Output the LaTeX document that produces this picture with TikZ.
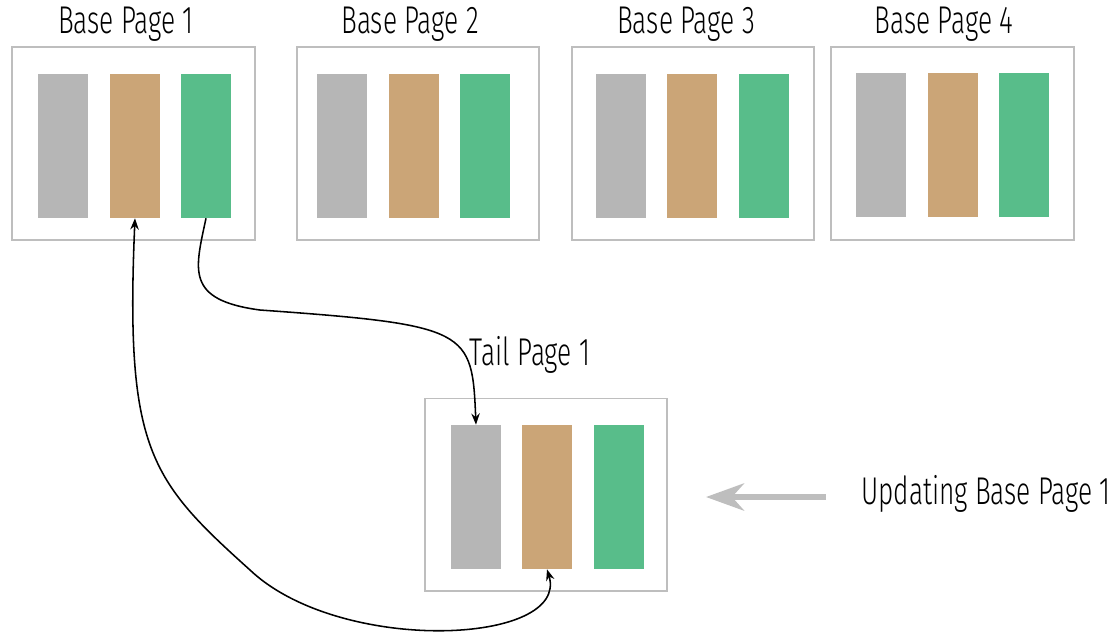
\documentclass[tikz,border=0pt]{standalone}
\usepackage{fontspec}
\setmainfont[FakeStretch=0.68]{Fira Sans Light}
\usetikzlibrary{arrows.meta}
\definecolor{pagegray}{RGB}{190,190,190}
\definecolor{colgray}{RGB}{182,182,182}
\definecolor{coltan}{RGB}{203,165,119}
\definecolor{colgreen}{RGB}{88,189,138}
\definecolor{arrowgray}{RGB}{190,190,190}
\begin{document}
\begin{tikzpicture}[x=0.025cm, y=-0.025cm, font=\fontsize{27.5}{31}\selectfont,
  page/.style={draw=pagegray, line width=1.4pt, minimum width=6.05cm, minimum height=4.8cm, inner sep=0},
  bar/.style={minimum width=1.25cm, minimum height=3.6cm, inner sep=0},
  link/.style={line width=1.1pt, {Stealth[length=8pt,width=6pt]}-{Stealth[length=8pt,width=6pt]}}]
\useasboundingbox (0,0) rectangle (1115,634);

% base pages
\node [page] (bp1) at (133.5,143.5) {};
\node [page] (bp2) at (418,143.5) {};
\node [page] (bp3) at (693,143.5) {};
\node [page] (bp4) at (952.5,143.5) {};
\node (l1) at (126,24) {Base Page 1};
\node (l2) at (410,24) {Base Page 2};
\node (l3) at (686,24) {Base Page 3};
\node (l4) at (944,24) {Base Page 4};

\node [bar, fill=colgray] (bp1a) at (63,146) {};
\node [bar, fill=coltan] (bp1b) at (135,146) {};
\node [bar, fill=colgreen] (bp1c) at (206,146) {};
\node [bar, fill=colgray] (bp2a) at (342,146) {};
\node [bar, fill=coltan] (bp2b) at (414,146) {};
\node [bar, fill=colgreen] (bp2c) at (485,146) {};
\node [bar, fill=colgray] (bp3a) at (621,146) {};
\node [bar, fill=coltan] (bp3b) at (692,146) {};
\node [bar, fill=colgreen] (bp3c) at (764,146) {};
\node [bar, fill=colgray] (bp4a) at (881,145) {};
\node [bar, fill=coltan] (bp4b) at (953,145) {};
\node [bar, fill=colgreen] (bp4c) at (1024,145) {};

% tail page
\node [page] (tp1) at (546,494.5) {};
\node (lt) at (530,355) {Tail Page 1};
\node [bar, fill=colgray] (tp1a) at (476,497) {};
\node [bar, fill=coltan] (tp1b) at (547,497) {};
\node [bar, fill=colgreen] (tp1c) at (619,497) {};

% update
\node (lu) at (986,494) {Updating Base Page 1};
\coordinate (u1) at (826,497);
\coordinate (u2) at (706,497);
\draw [arrowgray, line width=4.2pt, -{Stealth[length=0.95cm,width=0.68cm,inset=0.3cm]}] (u1) -- (u2);

% links
\draw [line width=1.1pt, -{Stealth[length=8pt,width=6pt]}] (bp1c.south) .. controls (195,270) and (185,300) .. (260,310) .. controls (470,325) and (472,330) .. (tp1a.north);
\draw [link] (bp1b.south) .. controls (125,450) and (150,480) .. (250,570) .. controls (340,655) and (570,645) .. (tp1b.south);
\end{tikzpicture}
\end{document}
